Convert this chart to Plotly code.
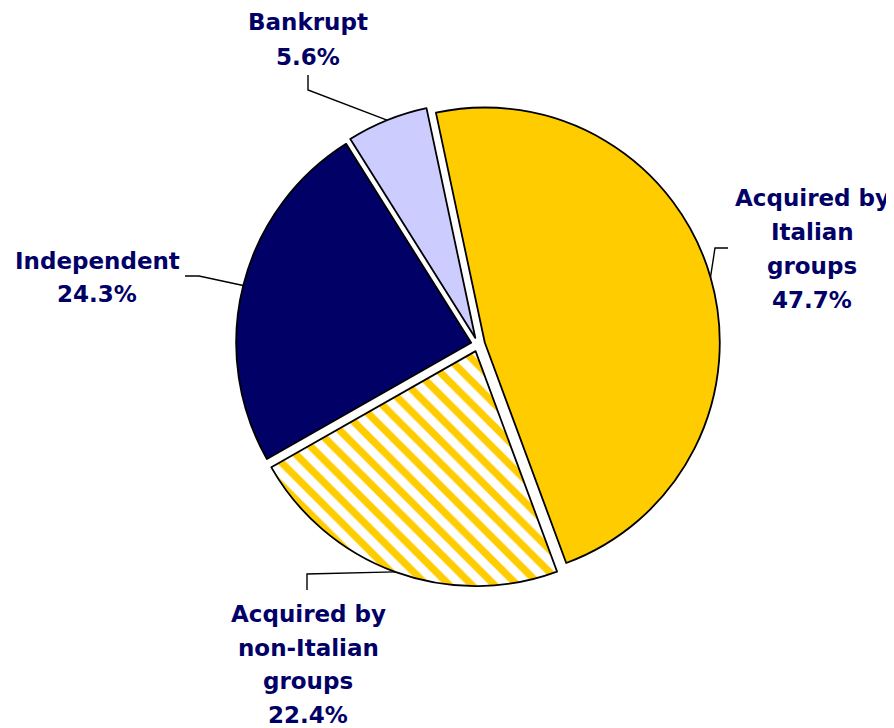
import math
import plotly.graph_objects as go

# ---- data ----
categories = ["Acquired by Italian groups", "Acquired by non-Italian groups",
              "Independent", "Bankrupt"]
values = [47.7, 22.4, 24.3, 5.6]
label_lines = [["Acquired by", "Italian", "groups"],
               ["Acquired by", "non-Italian", "groups"],
               ["Independent"],
               ["Bankrupt"]]

# ---- style / layout ----
VIEW_W, VIEW_H = 894, 728
OFF = 8                      # page body margin
W, H = VIEW_W - OFF, VIEW_H - OFF
colors = ["#FFCC00", "#FFCC00", "#000066", "#CCCCFF"]
patterns = ["", "\\", "", ""]
pulls = [0.03, 0.03, 0.03, 0.03]
rotation = -12
pie_cx, pie_cy, pie_r = 478, 344.5, 235   # target in viewport px
text_color = "#000066"
font_family = "DejaVu Sans"
font_size = 23
# label block: (center x px, first line center y px, line spacing px)
label_pos = [(812, 198, 34), (308, 614, 33.5), (97, 261, 33), (308, 22, 35)]
# leader line: elbow point and end point near label (px)
leader_pts = [((715, 248), (728, 248)),
              ((307, 574), (307, 590)),
              ((199, 276), (185, 276)),
              ((308, 90), (308, 75))]


def px_to_paper(x, y):
    return (x - OFF) / W, 1 - (y - OFF) / H


half = pie_r * (1 + max(pulls))
dom_x = [(pie_cx - OFF - half) / W, (pie_cx - OFF + half) / W]
yb = H - (pie_cy - OFF)
dom_y = [(yb - half) / H, (yb + half) / H]

fig = go.Figure()
fig.add_trace(go.Pie(
    labels=categories, values=values, sort=False, direction="clockwise",
    rotation=rotation, pull=pulls, textinfo="none", hoverinfo="none",
    showlegend=False,
    domain=dict(x=dom_x, y=dom_y),
    marker=dict(colors=colors, line=dict(color="black", width=1.8),
                pattern=dict(shape=patterns, bgcolor="white", size=16,
                             solidity=0.45, fillmode="replace")),
))

# pie geometry (as plotly computes it), in viewport px
bw = (dom_x[1] - dom_x[0]) * W
bh = (dom_y[1] - dom_y[0]) * H
R = min(bw, bh) / (2 + 2 * max(pulls))
cx = (dom_x[0] + dom_x[1]) / 2 * W + OFF
cy = (1 - (dom_y[0] + dom_y[1]) / 2) * H + OFF
total = sum(values)

annotations = []
shapes = []
cum = 0
for i, v in enumerate(values):
    mid = math.radians(rotation + 360 * (cum + v / 2) / total)
    cum += v
    ux, uy = math.sin(mid), -math.cos(mid)
    r_anchor = R * (1 + pulls[i])
    ax, ay = cx + r_anchor * ux, cy + r_anchor * uy
    (ex, ey), (tx, ty) = leader_pts[i]
    p0 = px_to_paper(ax, ay)
    p1 = px_to_paper(ex, ey)
    p2 = px_to_paper(tx, ty)
    shapes.append(dict(type="path", xref="paper", yref="paper",
                       path=f"M{p0[0]},{p0[1]} L{p1[0]},{p1[1]} L{p2[0]},{p2[1]}",
                       line=dict(color="black", width=1.4)))
    lines = label_lines[i] + [f"{v:.1f}%"]
    lx, ly0, sp = label_pos[i]
    for k, t in enumerate(lines):
        px, py = px_to_paper(lx, ly0 + k * sp)
        annotations.append(dict(
            x=px, y=py, xref="paper", yref="paper", text=t, showarrow=False,
            xanchor="center", yanchor="middle",
            font=dict(family=font_family, size=font_size, color=text_color,
                      weight="bold")))

fig.update_layout(
    width=W, height=H, margin=dict(l=0, r=0, t=0, b=0),
    paper_bgcolor="white", plot_bgcolor="white",
    annotations=annotations, shapes=shapes,
)
fig.write_html("out.html")
